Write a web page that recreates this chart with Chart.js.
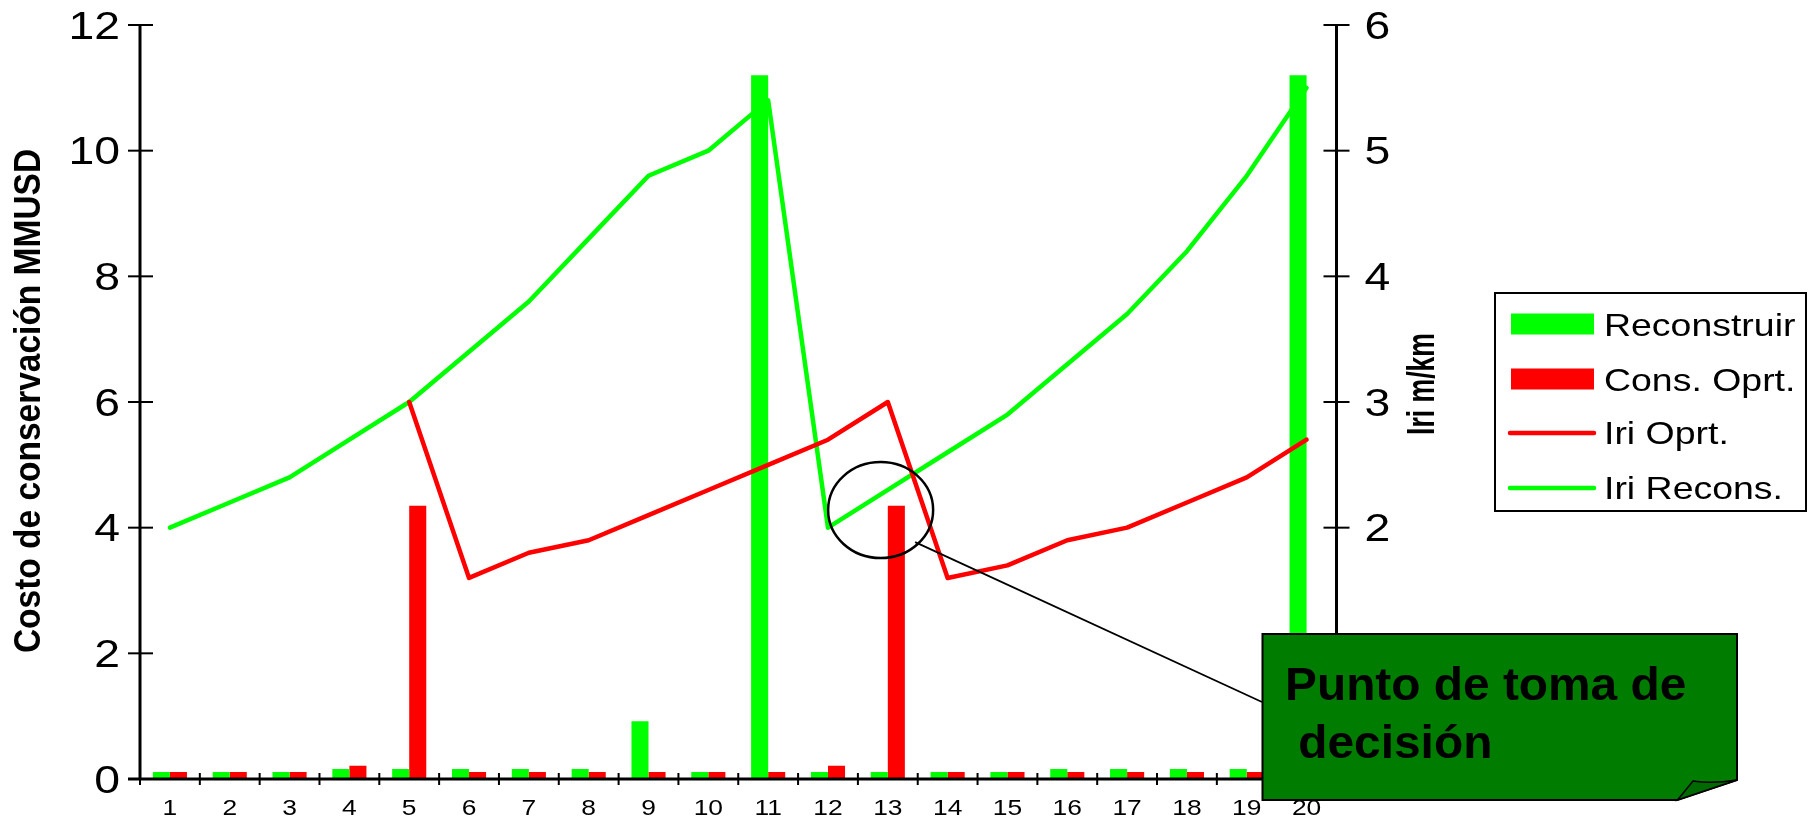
<!DOCTYPE html>
<html>
<head>
<meta charset="utf-8">
<script src="https://cdn.jsdelivr.net/npm/chart.js@4/dist/chart.umd.min.js"></script>
<style>
  html, body { margin: 0; padding: 0; background: #ffffff; }
  #wrap { width: 1810px; height: 826px; position: relative; }
</style>
</head>
<body>
<div id="wrap"><canvas id="chart" width="1810" height="826"></canvas></div>
<script>
// Years of the analysis period
const categories = ['1','2','3','4','5','6','7','8','9','10','11','12','13','14','15','16','17','18','19','20'];

// Conservation cost, MMUSD (left axis)
const reconstruir = [0.11, 0.11, 0.11, 0.16, 0.16, 0.16, 0.16, 0.16, 0.92, 0.11, 11.2, 0.11, 0.11, 0.11, 0.11, 0.16, 0.16, 0.16, 0.16, 11.2];
const consOprt    = [0.11, 0.11, 0.11, 0.21, 4.35, 0.11, 0.11, 0.11, 0.11, 0.11, 0.11, 0.21, 4.35, 0.11, 0.11, 0.11, 0.11, 0.11, 0.11, 0.11];

// Roughness, IRI m/km (right axis)
const iriOprt   = [null, null, null, null, 3.0, 1.6, 1.8, 1.9, 2.1, 2.3, 2.5, 2.7, 3.0, 1.6, 1.7, 1.9, 2.0, 2.2, 2.4, 2.7];
const iriRecons = [2.0, 2.2, 2.4, 2.7, 3.0, 3.4, 3.8, 4.3, 4.8, 5.0, 5.4, 2.0, 2.3, 2.6, 2.9, 3.3, 3.7, 4.2, 4.8, 5.5];

// Axis tick labels
const costTicks = [0, 2, 4, 6, 8, 10, 12];
const iriTicks  = [0, 1, 2, 3, 4, 5, 6];

// Texts
const costTitle = 'Costo de conservación MMUSD';
const iriTitle  = 'Iri m/km';
const noteLines = ['Punto de toma de', ' decisión'];

const GREEN = '#00ff00';
const RED = '#ff0000';
const FONT = '"Liberation Sans", Arial, Helvetica, sans-serif';

function seg(ctx, x1, y1, x2, y2) {
  ctx.beginPath(); ctx.moveTo(x1, y1); ctx.lineTo(x2, y2); ctx.stroke();
}

// Text with a horizontal stretch factor
function txt(ctx, s, x, y, font, align, sx) {
  ctx.save();
  ctx.translate(x, y);
  ctx.scale(sx, 1);
  ctx.font = font;
  ctx.textAlign = align;
  ctx.textBaseline = 'alphabetic';
  ctx.fillText(s, 0, 0);
  ctx.restore();
}

// Vertical (bottom-to-top) text centred on cx, cy
function vtxt(ctx, s, cx, cy, size, sx) {
  ctx.save();
  ctx.translate(cx, cy);
  ctx.rotate(-Math.PI / 2);
  ctx.scale(sx, 1);
  ctx.font = 'bold ' + size + 'px ' + FONT;
  ctx.textAlign = 'center';
  ctx.textBaseline = 'alphabetic';
  ctx.fillText(s, 0, size * 0.358);
  ctx.restore();
}

const decor = {
  id: 'decor',
  afterDraw(chart) {
    const ctx = chart.ctx;
    const a = chart.chartArea;
    const xs = chart.scales.x, ys = chart.scales.y, yr = chart.scales.y1;
    ctx.save();
    ctx.strokeStyle = '#000';
    ctx.fillStyle = '#000';
    ctx.lineCap = 'butt';

    // axis lines
    ctx.lineWidth = 3;
    seg(ctx, a.left, a.top - 1, a.left, a.bottom);
    seg(ctx, a.right, a.top - 1, a.right, a.bottom);
    seg(ctx, a.left - 12, a.bottom, a.right, a.bottom);

    // left axis ticks + labels
    ctx.lineWidth = 2;
    costTicks.forEach(v => {
      const y = ys.getPixelForValue(v);
      seg(ctx, a.left - 12, y, a.left + 13, y);
      txt(ctx, String(v), a.left - 20, y + 13.6, '38px ' + FONT, 'right', 1.22);
    });

    // right axis ticks + labels
    iriTicks.forEach(v => {
      const y = yr.getPixelForValue(v);
      seg(ctx, a.right - 13, y, a.right + 13, y);
      txt(ctx, String(v), a.right + 28, y + 13.6, '38px ' + FONT, 'left', 1.22);
    });

    // category ticks + labels
    const step = xs.getPixelForValue(1) - xs.getPixelForValue(0);
    for (let i = 0; i <= categories.length; i++) {
      const x = xs.getPixelForValue(0) - step / 2 + i * step;
      seg(ctx, x, a.bottom - 6, x, a.bottom + 6);
    }
    categories.forEach((c, i) => {
      txt(ctx, c, xs.getPixelForValue(i), a.bottom + 36, '22px ' + FONT, 'center', 1.2);
    });

    // axis titles
    vtxt(ctx, costTitle, 27, 401, 36, 0.93);
    vtxt(ctx, iriTitle, 1420, 384, 38, 0.7);

    // legend
    ctx.fillStyle = '#fff';
    ctx.fillRect(1495, 293, 311, 218);
    ctx.lineWidth = 2;
    ctx.strokeRect(1495, 293, 311, 218);
    const ds = chart.data.datasets;
    const rows = [324, 379, 432, 487];
    ds.forEach((d, i) => {
      const y = rows[i];
      if (d.type === 'line') {
        ctx.strokeStyle = d.borderColor;
        ctx.lineWidth = 4.5;
        ctx.lineCap = 'round';
        seg(ctx, 1510, y + 1, 1594, y + 1);
        ctx.lineCap = 'butt';
      } else {
        ctx.fillStyle = d.backgroundColor;
        ctx.fillRect(1511, y - 10.5, 83, 21);
      }
      ctx.fillStyle = '#000';
      txt(ctx, d.label, 1604, y + 12, '32px ' + FONT, 'left', 1.17);
    });

    // ellipse around the decision point
    ctx.strokeStyle = '#000';
    ctx.lineWidth = 2.5;
    const ex = xs.getPixelForValue(11.88), ey = yr.getPixelForValue(2.14);
    ctx.beginPath();
    ctx.ellipse(ex, ey, 52.5, 48, 0, 0, Math.PI * 2);
    ctx.stroke();

    // connector to the note
    ctx.lineWidth = 1.8;
    seg(ctx, ex + 34.5, ey + 32, 1262, 702);

    // note box with folded corner
    const L = 1262.5, T = 634, R = 1737, B = 800;
    ctx.beginPath();
    ctx.moveTo(L, T); ctx.lineTo(R, T); ctx.lineTo(R, 780);
    ctx.lineTo(1677.5, B); ctx.lineTo(L, B); ctx.closePath();
    ctx.fillStyle = '#007c00';
    ctx.fill();
    ctx.lineWidth = 2;
    ctx.stroke();
    ctx.beginPath();
    ctx.moveTo(1677.5, B);
    ctx.lineTo(1693, 781);
    ctx.quadraticCurveTo(1712, 784, R, 780);
    ctx.closePath();
    ctx.fillStyle = '#006a00';
    ctx.fill();
    ctx.lineWidth = 1.5;
    ctx.stroke();

    ctx.fillStyle = '#000';
    txt(ctx, noteLines[0], 1285, 700, 'bold 46px ' + FONT, 'left', 1.04);
    txt(ctx, noteLines[1], 1285, 758, 'bold 46px ' + FONT, 'left', 1.04);

    ctx.restore();
  }
};

new Chart(document.getElementById('chart'), {
  type: 'bar',
  data: {
    labels: categories,
    datasets: [
      { type: 'bar', label: 'Reconstruir', data: reconstruir, backgroundColor: GREEN, borderWidth: 0, yAxisID: 'y', order: 2 },
      { type: 'bar', label: 'Cons. Oprt.', data: consOprt, backgroundColor: RED, borderWidth: 0, yAxisID: 'y', order: 3 },
      { type: 'line', label: 'Iri Oprt.', data: iriOprt, borderColor: RED, backgroundColor: RED, borderWidth: 4.5,
        pointRadius: 0, tension: 0, spanGaps: false, yAxisID: 'y1', order: 0, borderJoinStyle: 'round', borderCapStyle: 'round' },
      { type: 'line', label: 'Iri Recons.', data: iriRecons, borderColor: GREEN, backgroundColor: GREEN, borderWidth: 4.5,
        pointRadius: 0, tension: 0, yAxisID: 'y1', order: 1, borderJoinStyle: 'round', borderCapStyle: 'round' }
    ]
  },
  options: {
    responsive: false,
    animation: false,
    devicePixelRatio: 1,
    layout: { padding: { top: 25, left: 0, right: 0, bottom: 0 } },
    datasets: { bar: { categoryPercentage: 0.57, barPercentage: 1.0 } },
    plugins: { legend: { display: false }, tooltip: { enabled: false }, title: { display: false } },
    scales: {
      x: {
        grid: { display: false }, border: { display: false },
        ticks: { display: false },
        afterFit(s) { s.height = 47; }
      },
      y: {
        position: 'left', min: costTicks[0], max: costTicks[costTicks.length - 1],
        grid: { display: false }, border: { display: false },
        ticks: { display: false, stepSize: 2 },
        afterFit(s) { s.width = 140; }
      },
      y1: {
        position: 'right', min: iriTicks[0], max: iriTicks[iriTicks.length - 1],
        grid: { display: false }, border: { display: false },
        ticks: { display: false, stepSize: 1 },
        afterFit(s) { s.width = 473.5; }
      }
    }
  },
  plugins: [decor]
});
</script>
</body>
</html>
